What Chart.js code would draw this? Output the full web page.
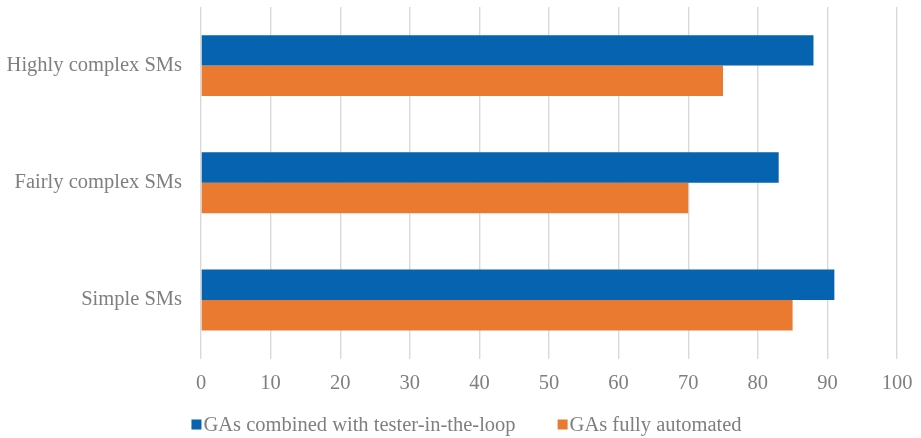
<!DOCTYPE html>
<html>
<head>
<meta charset="utf-8">
<script src="https://cdn.jsdelivr.net/npm/chart.js@4/dist/chart.umd.min.js"></script>
<style>
  html, body { margin: 0; padding: 0; background: #ffffff; }
  #wrap { width: 921px; height: 438px; }
</style>
</head>
<body>
<div id="wrap"><canvas id="c" width="921" height="438"></canvas></div>
<script>
// Categories, top to bottom
const categories = ['Highly complex SMs', 'Fairly complex SMs', 'Simple SMs'];
// Series values (percent)
const testerInLoop = [88, 83, 91];
const fullyAutomated = [75, 70, 85];
const seriesNames = ['GAs combined with tester-in-the-loop', 'GAs fully automated'];
// Value axis range and tick step
const xMin = 0, xMax = 100, xStep = 10;

const textColor = '#7f7f7f';
const serif = "'Liberation Serif', 'Times New Roman', serif";
const fontSize = 20.5;

// Compact legend row under the axis: small square, tight gap, wide spacing between entries
const bottomLegend = {
  id: 'bottomLegend',
  afterDraw(chart) {
    const ctx = chart.ctx;
    const box = 10, boxGap = 2, itemGap = 42;
    const baseline = 430.5;
    ctx.save();
    ctx.font = fontSize + 'px ' + serif;
    ctx.textBaseline = 'alphabetic';
    ctx.textAlign = 'left';
    const items = chart.data.datasets.map(ds => ({
      text: ds.label, color: ds.backgroundColor, w: ctx.measureText(ds.label).width
    }));
    const total = items.reduce((s, it) => s + box + boxGap + it.w, 0) + itemGap * (items.length - 1);
    let x = chart.width / 2 + 6 - total / 2;
    items.forEach(it => {
      ctx.fillStyle = it.color;
      ctx.fillRect(x, baseline - 11, box, box);
      ctx.fillStyle = textColor;
      ctx.fillText(it.text, x + box + boxGap, baseline);
      x += box + boxGap + it.w + itemGap;
    });
    ctx.restore();
  }
};

new Chart(document.getElementById('c'), {
  type: 'bar',
  data: {
    labels: categories,
    datasets: [
      { label: seriesNames[0], data: testerInLoop, backgroundColor: '#0563af' },
      { label: seriesNames[1], data: fullyAutomated, backgroundColor: '#e97a30' }
    ]
  },
  options: {
    indexAxis: 'y',
    responsive: false,
    animation: false,
    devicePixelRatio: 1,
    categoryPercentage: 0.52,
    barPercentage: 1.0,
    layout: { padding: { top: 7, right: 24, left: 0, bottom: 0 } },
    scales: {
      x: {
        min: xMin, max: xMax,
        ticks: { stepSize: xStep, color: textColor, padding: 13, font: { family: serif, size: fontSize } },
        grid: { color: '#d9d9d9', lineWidth: 1.4, drawTicks: false },
        border: { display: false },
        afterFit: (s) => { s.height = 79.4; s.paddingLeft = 0; s.paddingRight = 0; }
      },
      y: {
        ticks: { color: textColor, padding: 19, font: { family: serif, size: fontSize } },
        grid: { display: false, drawTicks: false },
        border: { display: false },
        afterFit: (s) => { s.width = 201; s.paddingTop = 0; s.paddingBottom = 0; }
      }
    },
    plugins: {
      legend: { display: false },
      tooltip: { enabled: false }
    }
  },
  plugins: [bottomLegend]
});
</script>
</body>
</html>
